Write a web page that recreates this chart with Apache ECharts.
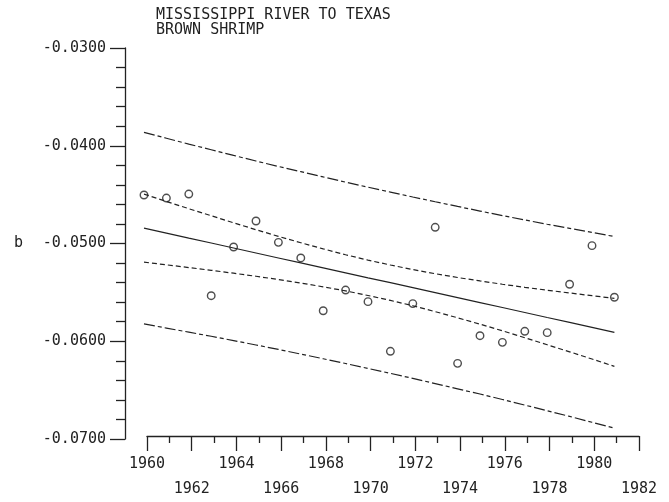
<!DOCTYPE html>
<html>
<head>
<meta charset="utf-8">
<script src="https://cdn.jsdelivr.net/npm/echarts@6/dist/echarts.min.js"></script>
<style>html,body{margin:0;padding:0;background:#fff;}#c{width:669px;height:502px;}</style>
</head>
<body>
<div id="c"></div>
<script>
// ---- data ----
const years = [1960,1961,1962,1963,1964,1965,1966,1967,1968,1969,1970,1971,1972,1973,1974,1975,1976,1977,1978,1979,1980,1981];
const bValues = [-0.04504,-0.04535,-0.04494,-0.05534,-0.05036,-0.04770,-0.04988,-0.05148,-0.05688,-0.05476,-0.05595,-0.06103,-0.05615,-0.04834,-0.06226,-0.05943,-0.06011,-0.05898,-0.05912,-0.05417,-0.05022,-0.05550];
const fitLine = [-0.04843,-0.04894,-0.04945,-0.04995,-0.05046,-0.05097,-0.05148,-0.05198,-0.05249,-0.05300,-0.05351,-0.05401,-0.05452,-0.05503,-0.05554,-0.05604,-0.05655,-0.05706,-0.05757,-0.05807,-0.05858,-0.05909];
const innerUpper = [-0.04495,-0.04570,-0.04644,-0.04716,-0.04788,-0.04859,-0.04927,-0.04992,-0.05055,-0.05115,-0.05170,-0.05220,-0.05267,-0.05309,-0.05348,-0.05383,-0.05417,-0.05448,-0.05478,-0.05506,-0.05534,-0.05561];
const innerLower = [-0.05191,-0.05218,-0.05246,-0.05274,-0.05304,-0.05335,-0.05369,-0.05404,-0.05443,-0.05485,-0.05532,-0.05582,-0.05637,-0.05697,-0.05760,-0.05825,-0.05893,-0.05964,-0.06036,-0.06108,-0.06182,-0.06257];
const outerUpper = [-0.03863,-0.03923,-0.03983,-0.04041,-0.04099,-0.04156,-0.04212,-0.04265,-0.04319,-0.04372,-0.04424,-0.04474,-0.04524,-0.04573,-0.04621,-0.04668,-0.04714,-0.04759,-0.04803,-0.04845,-0.04887,-0.04929];
const outerLower = [-0.05823,-0.05865,-0.05907,-0.05949,-0.05993,-0.06038,-0.06084,-0.06131,-0.06179,-0.06228,-0.06278,-0.06328,-0.06380,-0.06433,-0.06487,-0.06540,-0.06596,-0.06653,-0.06711,-0.06769,-0.06829,-0.06889];
const titleLines = ["MISSISSIPPI RIVER TO TEXAS", "BROWN SHRIMP"];
const yAxisName = "b";

// ---- chart ----
const FONT = "DejaVu Sans Mono";
const INK = "#222";
const pairs = arr => years.map((y, i) => [y, arr[i]]);

const chart = echarts.init(document.getElementById('c'), null, {renderer: 'canvas'});
function lineSeries(arr, dash) {
  return {
    type: 'line', xAxisIndex: 0, yAxisIndex: 0, data: pairs(arr),
    showSymbol: false, symbol: 'none', smooth: false, silent: true,
    lineStyle: {color: INK, width: 1.2, type: dash}
  };
}
chart.setOption({
  animation: false,
  backgroundColor: '#fff',
  title: {
    text: titleLines.join('\n'), left: 151, top: 3,
    textStyle: {fontFamily: FONT, fontSize: 15, fontWeight: 'normal', color: INK, lineHeight: 15}
  },
  grid: [
    {left: 144, top: 48, width: 470.4, height: 391, containLabel: false},
    {left: 147, top: 48, width: 492, height: 393.7, containLabel: false}
  ],
  xAxis: [
    {gridIndex: 0, type: 'value', min: 1960, max: 1981, show: false, splitLine: {show: false}},
    {gridIndex: 1, type: 'value', min: 1960, max: 1982, interval: 2,
     axisLine: {show: true, onZero: false, lineStyle: {color: INK, width: 1.3}},
     axisTick: {show: true, length: 15, lineStyle: {color: INK, width: 1.3}},
     minorTick: {show: true, splitNumber: 2, length: 7, lineStyle: {color: INK, width: 1.3}},
     splitLine: {show: false}, minorSplitLine: {show: false},
     axisLabel: {
       margin: 16, fontFamily: FONT, fontSize: 15, color: INK, lineHeight: 25,
       showMinLabel: true, showMaxLabel: true,
       formatter: v => ((v - 1960) % 4 === 0 ? String(v) : '\n' + v)
     }}
  ],
  yAxis: [
    {gridIndex: 0, type: 'value', min: -0.07, max: -0.03, interval: 0.01, offset: 19,
     name: yAxisName, nameLocation: 'middle', nameGap: 102, nameRotate: 0,
     nameTextStyle: {fontFamily: FONT, fontSize: 15, color: INK},
     axisLine: {show: true, onZero: false, lineStyle: {color: INK, width: 1.3}},
     axisTick: {show: true, length: 15, lineStyle: {color: INK, width: 1.3}},
     minorTick: {show: true, splitNumber: 5, length: 9, lineStyle: {color: INK, width: 1.3}},
     splitLine: {show: false}, minorSplitLine: {show: false},
     axisLabel: {margin: 19, fontFamily: FONT, fontSize: 15, color: INK,
       showMinLabel: true, showMaxLabel: true,
       formatter: v => v.toFixed(4)}},
    {gridIndex: 1, type: 'value', min: 0, max: 1, show: false, splitLine: {show: false}}
  ],
  series: [
    lineSeries(outerUpper, [11, 3, 4, 3]),
    lineSeries(outerLower, [11, 3, 4, 3]),
    lineSeries(innerUpper, [5, 3]),
    lineSeries(innerLower, [5, 3]),
    lineSeries(fitLine, 'solid'),
    {
      type: 'scatter', xAxisIndex: 0, yAxisIndex: 0, data: pairs(bValues),
      symbol: 'circle', symbolSize: 7.5, silent: true,
      itemStyle: {color: 'rgba(255,255,255,0)', borderColor: INK, borderWidth: 1.4}
    }
  ]
});
</script>
</body>
</html>
